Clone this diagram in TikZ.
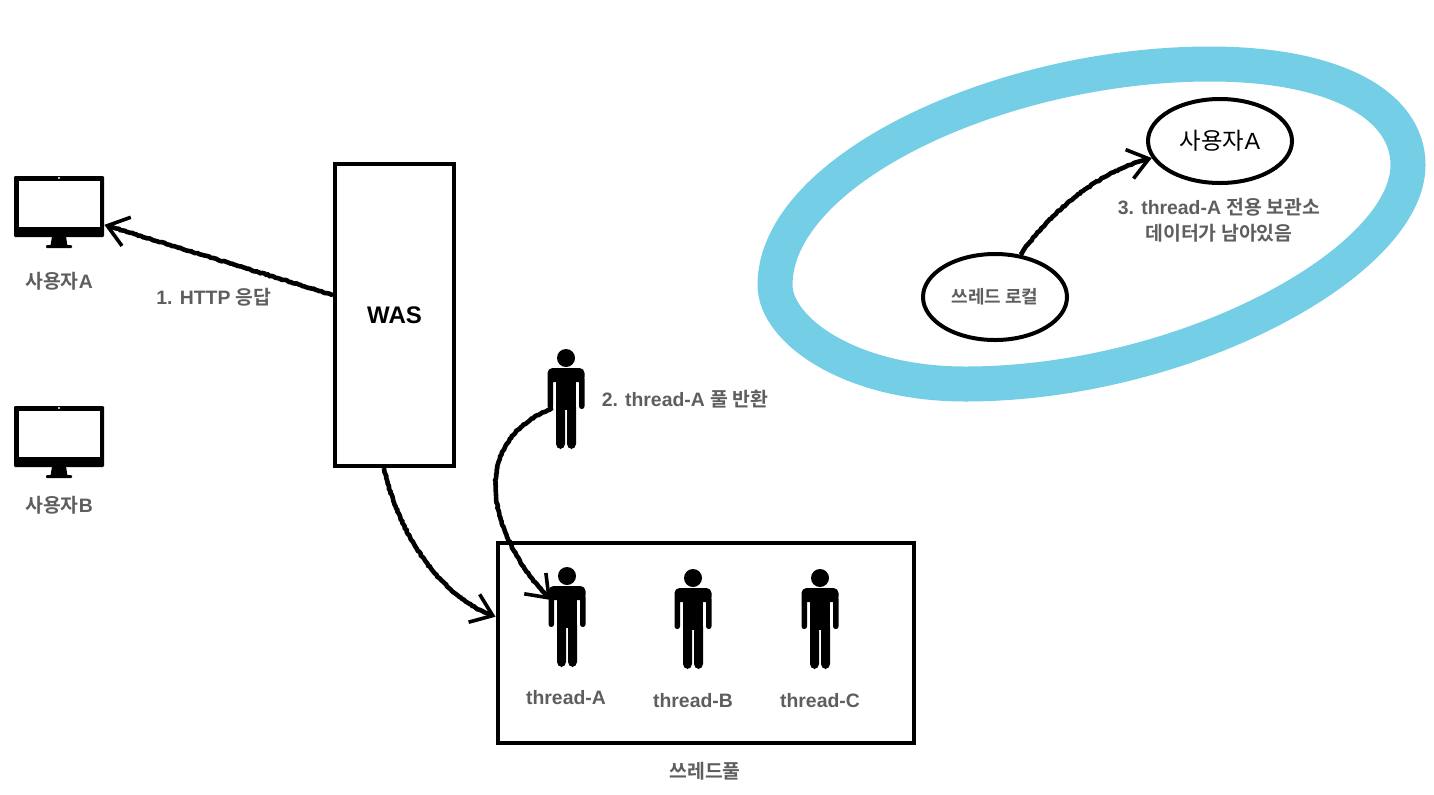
\documentclass[tikz,border=0pt]{standalone}
\usepackage{fontspec}
\setmainfont{Liberation Sans}
\newfontfamily\krfont{Noto Sans CJK KR}[BoldFont={Noto Sans CJK KR Bold}]
\newcommand{\kr}[1]{{\krfont #1}}
\usetikzlibrary{arrows.meta,shapes.geometric,decorations.pathmorphing}
\definecolor{labelgray}{HTML}{5E5E5E}
\definecolor{ringblue}{HTML}{74CEE6}
\tikzset{
    monitor/.pic={
        \node [fill=black, rounded corners=0.6pt, inner sep=0pt, minimum width=45pt, minimum height=30.5pt] (-box) at (0,0) {};
        \fill [white] (-40,-25.5) rectangle (41,20.5);
        \fill [white] (0,-28.5) circle (0.6pt);
        \fill [black] (-7,30) -- (7,30) -- (8.5,39) -- (-8.5,39) -- cycle;
        \fill [black, rounded corners=0.5pt] (-13,38.5) rectangle (13,41.5);
    },
    person/.pic={
        \fill [black] (0,0) circle (4.5pt);
        \fill [black, rounded corners=2.5pt] (-18.5,24) -- (-18.5,10) -- (18.5,10) -- (18.5,24) -- cycle;
        \fill [black, rounded corners=1.3pt] (-18.5,18) rectangle (-13,51);
        \fill [black, rounded corners=1.3pt] (13,18) rectangle (18.5,51);
        \fill [black] (-10,18) rectangle (10,52);
        \fill [black, rounded corners=2.5pt] (-10,44) rectangle (-1,91);
        \fill [black, rounded corners=2.5pt] (1,44) rectangle (10,91);
        \coordinate (-arm) at (-13,50);
        \coordinate (-chest) at (-16,24);
    }
}
\pgfmathsetseed{7}
\begin{document}
\begin{tikzpicture}[x=0.5pt, y=-0.5pt,
        box/.style={draw=black, line width=2pt, inner sep=0pt},
        oval/.style={ellipse, draw=black, line width=2pt, inner sep=0pt},
        caption/.style={text=labelgray, font=\bfseries\fontsize{9.7}{13}\selectfont, inner sep=0pt, align=center},
        rough/.style={line width=2.3pt, -{Straight Barb[length=10pt,width=15pt,line width=1.8pt]},
            decorate, decoration={random steps, segment length=1pt, amplitude=0.25pt, post length=6pt}}]
            \useasboundingbox (0,0) rectangle (1434,794);
            \draw [ringblue, line width=17.5pt] (775,285) .. controls (775,170) and (1000,64) .. (1210,64) .. controls (1335,64) and (1408,105) .. (1408,165) .. controls (1408,262) and (1185,384) .. (965,384) .. controls (850,384) and (775,330) .. (775,285) -- cycle;
            \pic (monA) at (59,206.5) {monitor};
            \pic (monB) at (59,436.5) {monitor};
            \node [caption] (labelA) at (59,281) {\kr{사용자}A};
            \node [caption] (labelB) at (59,505) {\kr{사용자}B};
            \node [box, minimum width=59.5pt, minimum height=151pt, font=\fontsize{12}{14}\selectfont\bfseries] (was) at (394.5,315) {WAS};
            \node [box, minimum width=208pt, minimum height=100pt] (pool) at (705.5,642.5) {};
            \node [caption] (poolname) at (705,771) {\kr{쓰레드풀}};
            \pic (back) at (566,358) {person};
            \pic (thA) at (567,576) {person};
            \pic (thB) at (693,578) {person};
            \pic (thC) at (820,578) {person};
            \node [caption] (nameA) at (566,698) {thread-A};
            \node [caption] (nameB) at (693,701) {thread-B};
            \node [caption] (nameC) at (820,701) {thread-C};
            \node [caption] (step1) at (214,297) {1. HTTP \kr{응답}};
            \node [caption] (step2) at (685,399) {2. thread-A \kr{풀 반환}};
            \node [caption] (step3) at (1219,220) {3. thread-A \kr{전용 보관소}\\\kr{데이터가 남아있음}};
            \node [oval, minimum width=72pt, minimum height=42pt, font=\fontsize{11.7}{13}\selectfont] (owner) at (1220,141) {\kr{사용자}A};
            \node [oval, minimum width=72pt, minimum height=43pt, text=labelgray, font=\bfseries\fontsize{9}{10}\selectfont] (local) at (995,297) {\kr{쓰레드 로컬}};
            \draw [rough] (was.162) -- (monA-box.-22);
            \draw [rough] (was.-94) .. controls (400,540) and (445,600) .. (pool.173);
            \draw [rough] (back-arm) .. controls (460,445) and (495,545) .. (thA-chest);
            \draw [rough] (local.59) .. controls (1050,212) and (1100,170) .. (owner.194);
        \end{tikzpicture}
\end{document}
